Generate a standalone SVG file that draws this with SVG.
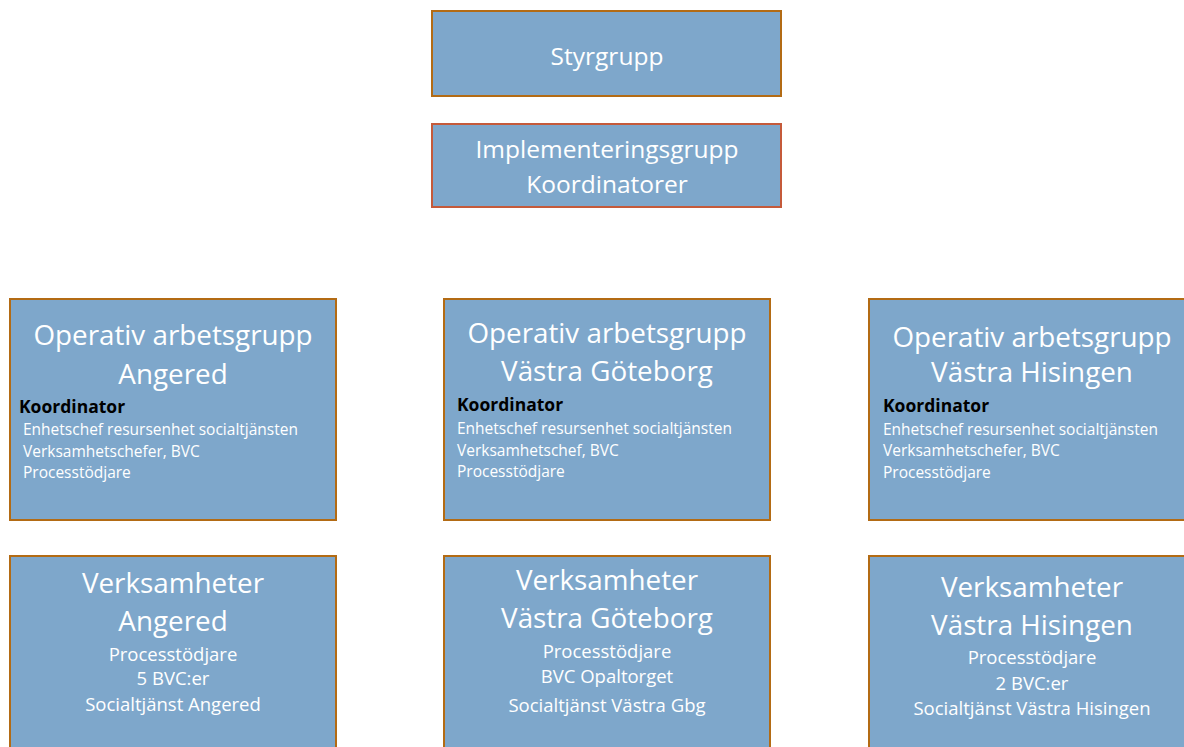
<svg xmlns="http://www.w3.org/2000/svg" width="1184" height="747" viewBox="0 0 1184 747">
<style>
.box{fill:#7ea7cb;stroke:#b36b14;stroke-width:2}
.box2{fill:#7ea7cb;stroke:#c55a3a;stroke-width:2}
text{font-family:"Open Sans","Liberation Sans",sans-serif;fill:#ffffff}
.c{text-anchor:middle}
.t1{font-size:24.5px}
.big{font-size:27.8px}
.mid{font-size:18.5px}
.k{font-size:17.5px;font-weight:bold;fill:#000000}
.s{font-size:15.5px}
</style>
<rect width="1184" height="747" fill="#ffffff"/>
<g id="connectors"></g>
<g id="styrgrupp">
<rect class="box" x="432" y="11" width="349" height="85"/>
<text class="c t1" x="607" y="65">Styrgrupp</text>
</g>
<g id="implementeringsgrupp">
<rect class="box2" x="432" y="124" width="349" height="83"/>
<text class="c t1" x="607" y="158">Implementeringsgrupp</text>
<text class="c t1" x="607" y="193">Koordinatorer</text>
</g>
<g id="op-angered">
<rect class="box" x="10" y="299" width="326" height="221"/>
<text class="c big" x="173" y="345">Operativ arbetsgrupp</text>
<text class="c big" x="173" y="384">Angered</text>
<text class="k" x="19" y="413">Koordinator</text>
<text class="s" x="23" y="435">Enhetschef resursenhet socialtjänsten</text>
<text class="s" x="23" y="457">Verksamhetschefer, BVC</text>
<text class="s" x="23" y="478">Processtödjare</text>
</g>
<g id="op-vastra-goteborg">
<rect class="box" x="444" y="299" width="326" height="221"/>
<text class="c big" x="607" y="343">Operativ arbetsgrupp</text>
<text class="c big" x="607" y="381">Västra Göteborg</text>
<text class="k" x="457" y="411">Koordinator</text>
<text class="s" x="457" y="434">Enhetschef resursenhet socialtjänsten</text>
<text class="s" x="457" y="456">Verksamhetschef, BVC</text>
<text class="s" x="457" y="477">Processtödjare</text>
</g>
<g id="op-vastra-hisingen">
<rect class="box" x="869" y="299" width="326" height="221"/>
<text class="c big" x="1032" y="347">Operativ arbetsgrupp</text>
<text class="c big" x="1032" y="382">Västra Hisingen</text>
<text class="k" x="883" y="412">Koordinator</text>
<text class="s" x="883" y="435">Enhetschef resursenhet socialtjänsten</text>
<text class="s" x="883" y="456">Verksamhetschefer, BVC</text>
<text class="s" x="883" y="478">Processtödjare</text>
</g>
<g id="verk-angered">
<rect class="box" x="10" y="556" width="326" height="200"/>
<text class="c big" x="173" y="593">Verksamheter</text>
<text class="c big" x="173" y="631">Angered</text>
<text class="c mid" x="173" y="661">Processtödjare</text>
<text class="c mid" x="173" y="685">5 BVC:er</text>
<text class="c mid" x="173" y="711">Socialtjänst Angered</text>
</g>
<g id="verk-vastra-goteborg">
<rect class="box" x="444" y="556" width="326" height="200"/>
<text class="c big" x="607" y="590">Verksamheter</text>
<text class="c big" x="607" y="628">Västra Göteborg</text>
<text class="c mid" x="607" y="658">Processtödjare</text>
<text class="c mid" x="607" y="683">BVC Opaltorget</text>
<text class="c mid" x="607" y="712">Socialtjänst Västra Gbg</text>
</g>
<g id="verk-vastra-hisingen">
<rect class="box" x="869" y="556" width="326" height="200"/>
<text class="c big" x="1032" y="597">Verksamheter</text>
<text class="c big" x="1032" y="635">Västra Hisingen</text>
<text class="c mid" x="1032" y="664">Processtödjare</text>
<text class="c mid" x="1032" y="690">2 BVC:er</text>
<text class="c mid" x="1032" y="715">Socialtjänst Västra Hisingen</text>
</g>
</svg>
